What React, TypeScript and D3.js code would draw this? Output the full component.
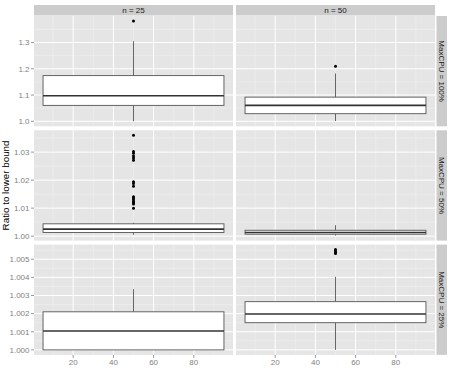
import React from 'react';
import * as d3 from 'd3';

const colLabels = ['n = 25', 'n = 50'];
const rowLabels = ['MaxCPU = 100%', 'MaxCPU = 50%', 'MaxCPU = 25%'];

const xTicks = [20, 40, 60, 80];
const boxCenter = 50;
const boxWidth = 90;

// y tick labels for each row
const yTicks100 = ['1.0', '1.1', '1.2', '1.3'];
const yTicks50 = ['1.00', '1.01', '1.02', '1.03'];
const yTicks25 = ['1.000', '1.001', '1.002', '1.003', '1.004', '1.005'];
const yTicks = [yTicks100, yTicks50, yTicks25];

// [lower whisker, q1, median, q3, upper whisker] per row
const boxN25 = [
  [1.0, 1.0606, 1.097, 1.174, 1.305],
  [1.0005, 1.0013, 1.0025, 1.0044, 1.0048],
  [1.0, 1.0, 1.00104, 1.0021, 1.00335],
];
const boxN50 = [
  [1.001, 1.029, 1.0606, 1.092, 1.182],
  [1.0002, 1.0007, 1.0013, 1.0021, 1.0039],
  [1.0, 1.0015, 1.00198, 1.00266, 1.00403],
];
const outN25 = [
  [1.382],
  [1.036, 1.0302, 1.0296, 1.0286, 1.0279, 1.0271, 1.0194, 1.0188, 1.0178,
    1.0141, 1.0136, 1.0131, 1.0125, 1.012, 1.0115, 1.01],
  [],
];
const outN50 = [
  [1.2095],
  [],
  [1.00553, 1.00545, 1.00538, 1.00532],
];

const W = 450;
const H = 369;
const left = 34;
const panelW = 199;
const colGap = 3;
const top = 16;
const panelH = 110.3;
const rowGap = 4;
const stripH = 11;
const stripW = 10.5;
const font = '"Liberation Sans", Arial, sans-serif';

const x = (col: number) =>
  d3.scaleLinear()
    .domain([boxCenter - boxWidth / 2 - 4.5, boxCenter + boxWidth / 2 + 4.5])
    .range([left + col * (panelW + colGap), left + col * (panelW + colGap) + panelW]);

const yScale = (row: number) => {
  const vals = [...boxN25[row], ...boxN50[row], ...outN25[row], ...outN50[row]];
  const lo = d3.min(vals)!;
  const hi = d3.max(vals)!;
  const pad = (hi - lo) * 0.05;
  const y0 = top + row * (panelH + rowGap);
  return d3.scaleLinear().domain([lo - pad, hi + pad]).range([y0 + panelH, y0]);
};

const Panel: React.FC<{ row: number; col: number }> = ({ row, col }) => {
  const xs = x(col);
  const ys = yScale(row);
  const [x0, x1] = xs.range();
  const [yb, yt] = ys.range();
  const ticks = yTicks[row].map(Number);
  const step = ticks[1] - ticks[0];
  const [dlo, dhi] = ys.domain();
  const yMinor = [ticks[0] - step / 2, ...ticks.map((t) => t + step / 2)].filter(
    (v) => v > dlo && v < dhi
  );
  const xMinor = [xTicks[0] - 10, ...xTicks.map((t) => t + 10)];
  const stats = (col === 0 ? boxN25 : boxN50)[row];
  const outs = (col === 0 ? outN25 : outN50)[row];
  const bx0 = xs(boxCenter - boxWidth / 2);
  const bx1 = xs(boxCenter + boxWidth / 2);
  const cx = xs(boxCenter);
  return (
    <g>
      <rect x={x0} y={yt} width={x1 - x0} height={yb - yt} fill="#E5E5E5" />
      {yMinor.map((v, i) => (
        <line key={'ym' + i} x1={x0} x2={x1} y1={ys(v)} y2={ys(v)} stroke="#F2F2F2" strokeWidth={0.5} />
      ))}
      {xMinor.map((v, i) => (
        <line key={'xm' + i} x1={xs(v)} x2={xs(v)} y1={yt} y2={yb} stroke="#F2F2F2" strokeWidth={0.5} />
      ))}
      {ticks.map((v, i) => (
        <line key={'yg' + i} x1={x0} x2={x1} y1={ys(v)} y2={ys(v)} stroke="#FFFFFF" strokeWidth={1} />
      ))}
      {xTicks.map((v, i) => (
        <line key={'xg' + i} x1={xs(v)} x2={xs(v)} y1={yt} y2={yb} stroke="#FFFFFF" strokeWidth={1} />
      ))}
      <line x1={cx} x2={cx} y1={ys(stats[0])} y2={ys(stats[1])} stroke="#444" strokeWidth={0.8} />
      <line x1={cx} x2={cx} y1={ys(stats[3])} y2={ys(stats[4])} stroke="#444" strokeWidth={0.8} />
      <rect x={bx0} y={ys(stats[3])} width={bx1 - bx0} height={ys(stats[1]) - ys(stats[3])}
        fill="#FFFFFF" stroke="#555" strokeWidth={0.9} />
      <line x1={bx0} x2={bx1} y1={ys(stats[2])} y2={ys(stats[2])} stroke="#333" strokeWidth={1.6} />
      {outs.map((v, i) => (
        <circle key={'o' + i} cx={cx} cy={ys(v)} r={1.5} fill="#000" />
      ))}
    </g>
  );
};

const App: React.FC = () => {
  const xRight = left + 2 * panelW + colGap;
  return (
    <svg width={W} height={H} style={{ position: 'absolute', left: 0, top: 0 }} fontFamily={font}>
      <rect width={W} height={H} fill="#FFFFFF" />
      {rowLabels.map((_, r) =>
        colLabels.map((_, c) => <Panel key={r + '-' + c} row={r} col={c} />)
      )}
      {colLabels.map((lab, c) => {
        const [a, b] = x(c).range();
        return (
          <g key={'cs' + c}>
            <rect x={a} y={top - stripH} width={b - a} height={stripH - 0.5} fill="#CCCCCC" />
            <text x={(a + b) / 2} y={top - stripH / 2} dy="0.35em" textAnchor="middle"
              fontSize={8} fill="#1A1A1A">{lab}</text>
          </g>
        );
      })}
      {rowLabels.map((lab, r) => {
        const [b, a] = yScale(r).range();
        const cxs = xRight + 1.5 + stripW / 2;
        return (
          <g key={'rs' + r}>
            <rect x={xRight + 1.5} y={a} width={stripW} height={b - a} fill="#CCCCCC" />
            <text transform={`translate(${cxs},${(a + b) / 2}) rotate(90)`} dy="0.35em"
              textAnchor="middle" fontSize={8} fill="#1A1A1A">{lab}</text>
          </g>
        );
      })}
      {rowLabels.map((_, r) => {
        const ys = yScale(r);
        return (
          <g key={'ya' + r}>
            {yTicks[r].map((lab, i) => (
              <g key={i}>
                <line x1={left - 3} x2={left} y1={ys(+lab)} y2={ys(+lab)} stroke="#7F7F7F" strokeWidth={0.8} />
                <text x={left - 4.5} y={ys(+lab)} dy="0.35em" textAnchor="end" fontSize={8} fill="#7F7F7F">{lab}</text>
              </g>
            ))}
          </g>
        );
      })}
      {colLabels.map((_, c) => {
        const xs = x(c);
        const yb = yScale(2).range()[0];
        return (
          <g key={'xa' + c}>
            {xTicks.map((t, i) => (
              <g key={i}>
                <line x1={xs(t)} x2={xs(t)} y1={yb} y2={yb + 3} stroke="#7F7F7F" strokeWidth={0.8} />
                <text x={xs(t)} y={yb + 10.5} textAnchor="middle" fontSize={8} fill="#7F7F7F">{t}</text>
              </g>
            ))}
          </g>
        );
      })}
      <text transform={`translate(5.5,${(top + yScale(2).range()[0]) / 2}) rotate(-90)`} dy="0.35em"
        textAnchor="middle" fontSize={9.8} fill="#000">Ratio to lower bound</text>
    </svg>
  );
};

export default App;
